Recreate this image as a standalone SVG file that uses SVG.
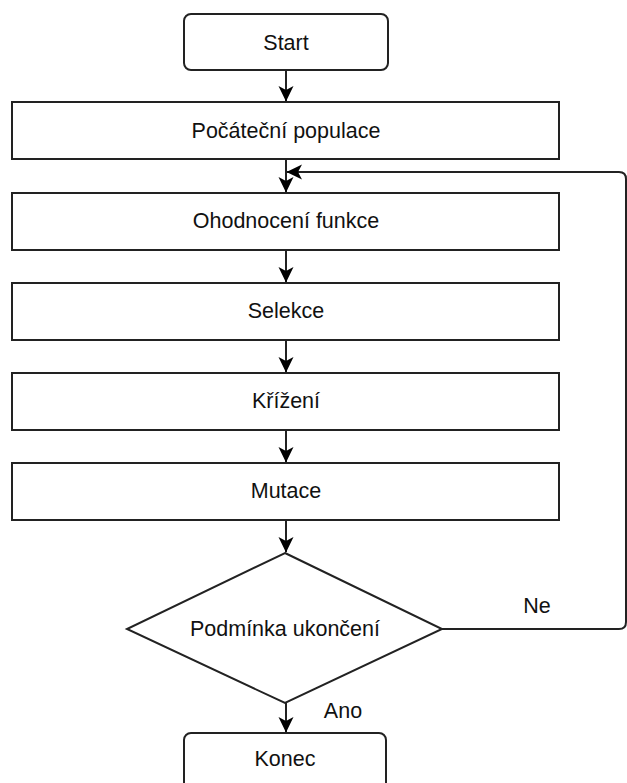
<svg xmlns="http://www.w3.org/2000/svg" width="627" height="783" viewBox="0 0 627 783">
<defs>
<marker id="arr" markerWidth="16" markerHeight="16" viewBox="0 0 16 16" refX="15" refY="8" orient="auto" markerUnits="userSpaceOnUse">
<path d="M0,0.5 L15.5,8 L0,15.5 L4,8 Z" fill="#000"/>
</marker>
</defs>
<style>
.box{fill:#fff;stroke:#222;stroke-width:2}
.t{font-family:"Liberation Sans",Arial,sans-serif;font-size:21.5px;fill:#111;text-anchor:middle;dominant-baseline:central}
.c{fill:none;stroke:#222;stroke-width:2}
</style>
<rect width="627" height="783" fill="#fff"/>
<g id="connectors">
<line class="c" x1="286" y1="70" x2="286" y2="101" marker-end="url(#arr)"/>
<line class="c" x1="286" y1="159" x2="286" y2="192" marker-end="url(#arr)"/>
<line class="c" x1="286" y1="250" x2="286" y2="282" marker-end="url(#arr)"/>
<line class="c" x1="286" y1="340" x2="286" y2="372" marker-end="url(#arr)"/>
<line class="c" x1="286" y1="430" x2="286" y2="462" marker-end="url(#arr)"/>
<line class="c" x1="286" y1="520" x2="286" y2="552" marker-end="url(#arr)"/>
<line class="c" x1="286" y1="703" x2="286" y2="732" marker-end="url(#arr)"/>
<path class="c" d="M442,629 L619,629 Q626,629 626,622 L626,179 Q626,172 619,172 L287,172" marker-end="url(#arr)"/>
<text class="t" x="537" y="606">Ne</text>
<text class="t" x="343" y="711">Ano</text>
</g>
<g id="start"><rect class="box" x="184" y="14" width="204" height="56" rx="7"/><text class="t" x="286" y="43">Start</text></g>
<g id="pocatecni"><rect class="box" x="12" y="102" width="547" height="57"/><text class="t" x="286" y="131">Počáteční populace</text></g>
<g id="ohodnoceni"><rect class="box" x="12" y="193" width="547" height="57"/><text class="t" x="286" y="221">Ohodnocení funkce</text></g>
<g id="selekce"><rect class="box" x="12" y="283" width="547" height="57"/><text class="t" x="286" y="311">Selekce</text></g>
<g id="krizeni"><rect class="box" x="12" y="373" width="547" height="57"/><text class="t" x="286" y="401">Křížení</text></g>
<g id="mutace"><rect class="box" x="12" y="463" width="547" height="57"/><text class="t" x="286" y="491">Mutace</text></g>
<g id="podminka"><polygon class="box" points="285,553 442,629 285,703 127,629"/><text class="t" x="285" y="629">Podmínka ukončení</text></g>
<g id="konec"><rect class="box" x="184" y="733" width="202" height="58" rx="7"/><text class="t" x="285" y="759">Konec</text></g>
</svg>
